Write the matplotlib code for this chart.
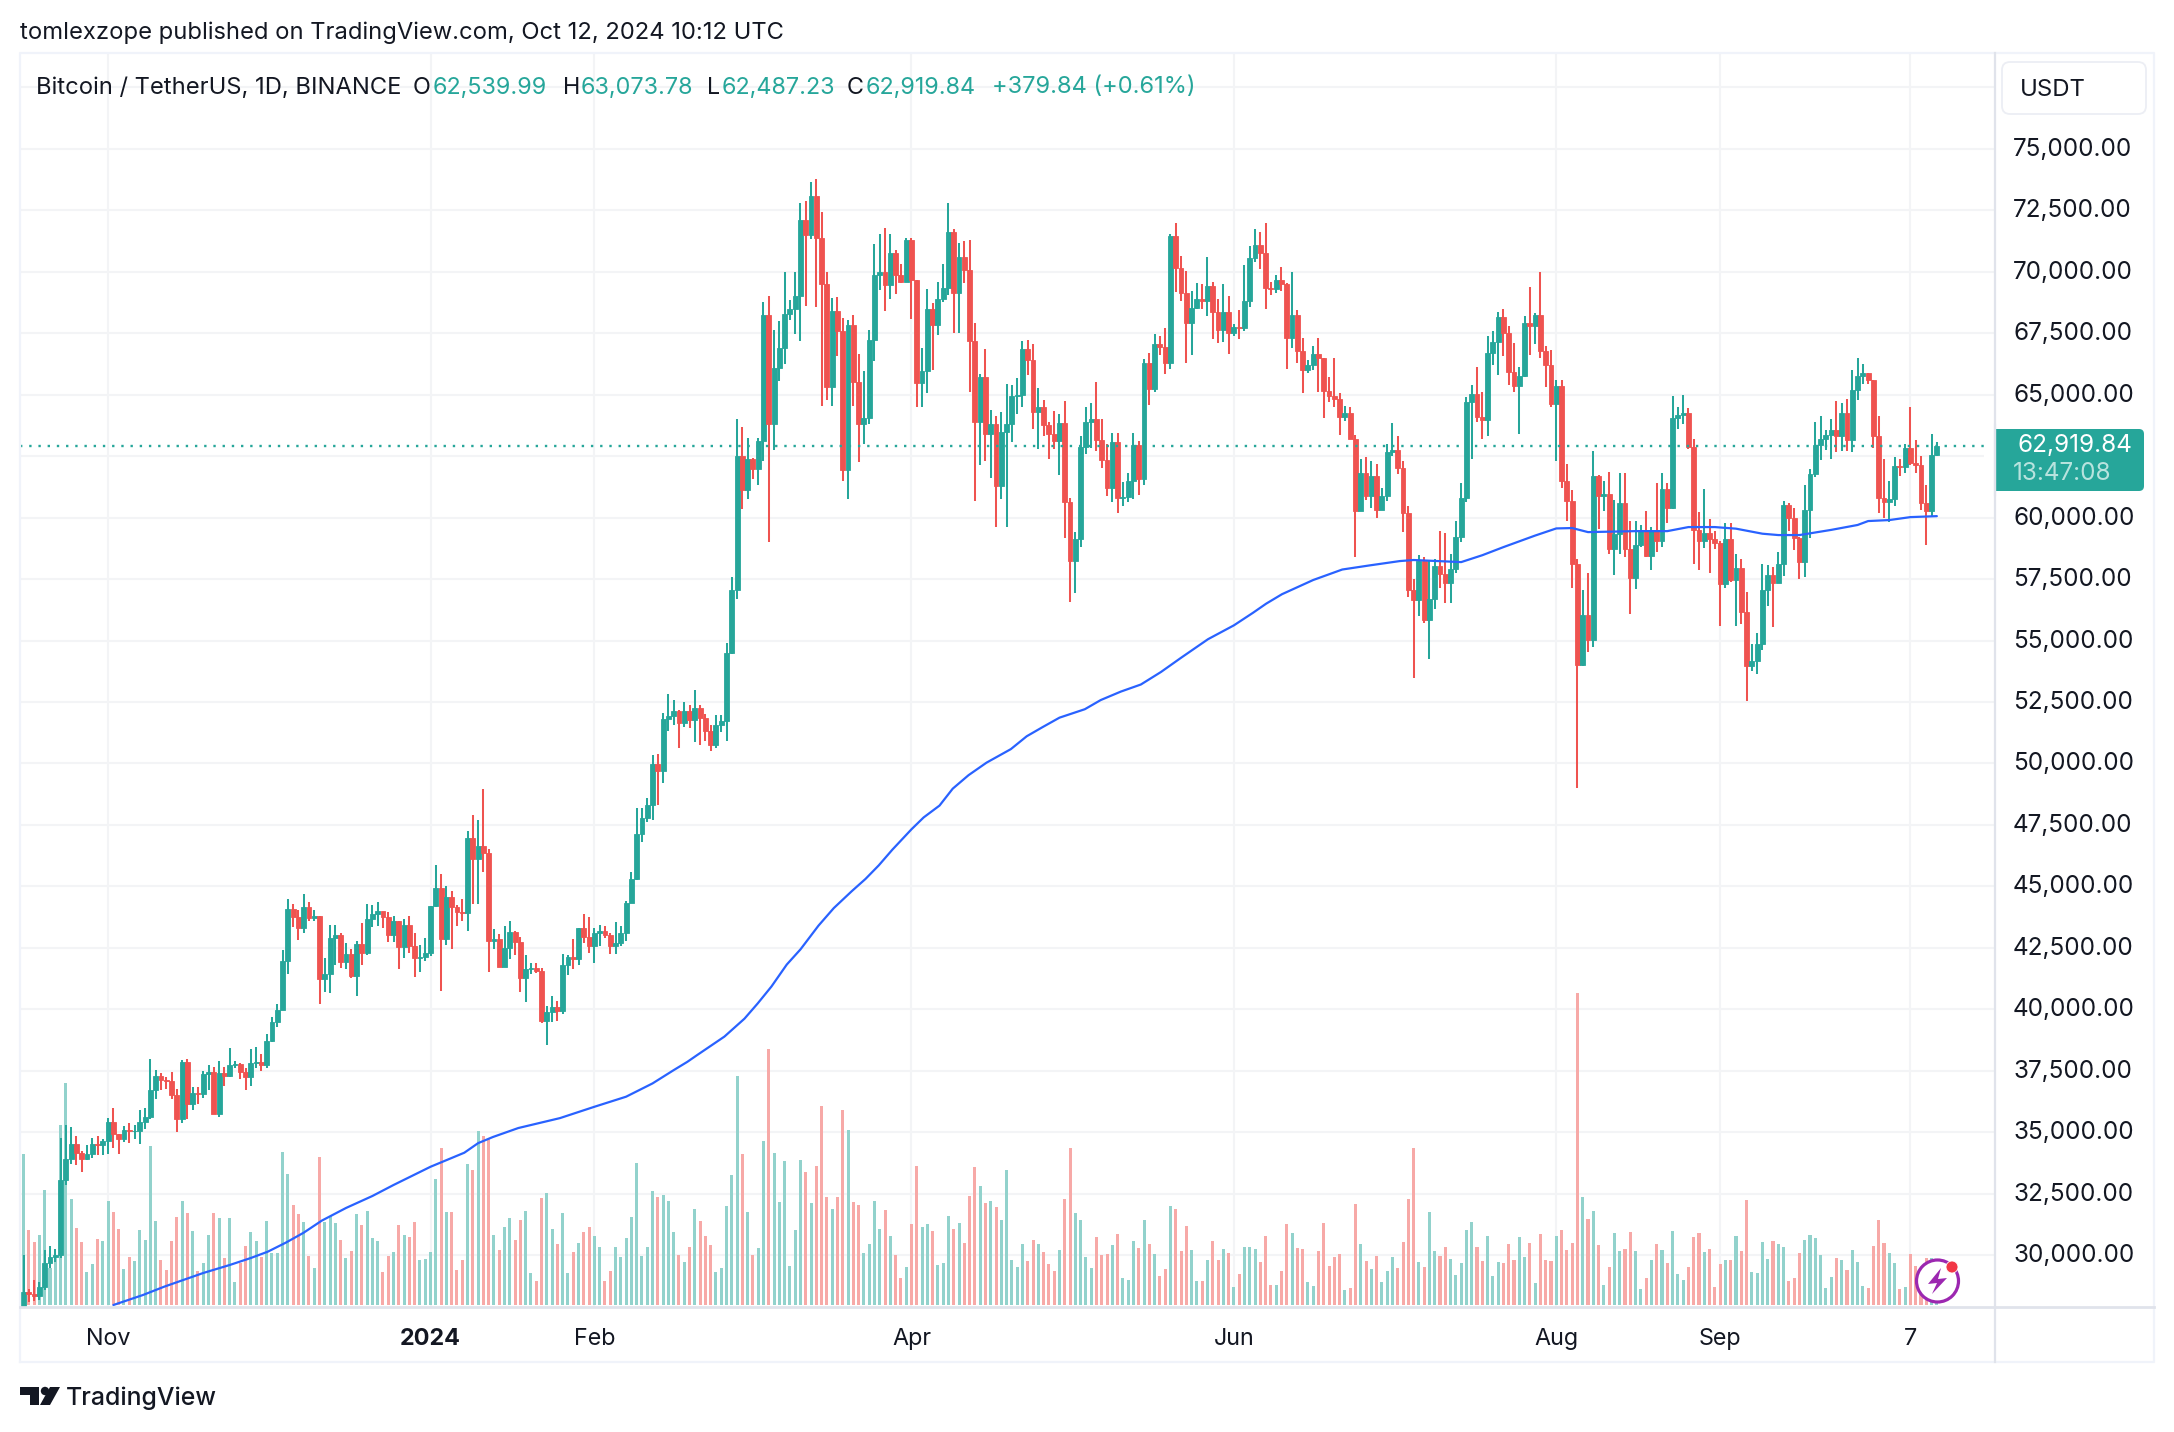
import matplotlib
matplotlib.use("Agg")
import matplotlib.pyplot as plt
from matplotlib.patches import Rectangle, FancyBboxPatch, Circle, Polygon
from matplotlib.transforms import ScaledTranslation
import numpy as np
import pandas as pd

plt.rcParams['font.family'] = ['Inter', 'DejaVu Sans']

start_date = "2023-10-15"
end_date = "2024-10-12"

closes = [
    27150,28500,28395,28320,28715,29670,29910,29990,33070,33900,34500,34156,33900,34090,34525,34480,34640,
    35420,34940,34720,35080,35040,35050,35420,35620,36700,37300,37130,37060,36490,35540,37870,36150,36600,36570,37360,37460,35750,37410,37290,37720,37790,37450,37240,37820,37850,37710,
    38690,39460,39970,41980,44080,43770,43290,44170,43720,43790,41240,41450,42890,43020,41940,42260,41370,42660,42270,43650,43860,43990,43740,43020,43600,42520,43440,42580,42070,42140,42280,
    44180,44950,42850,44560,44150,43970,43930,46950,46110,46630,46340,42780,42850,41730,42510,43140,42740,41260,41620,41660,41540,39500,39880,40080,39930,41810,42120,42030,43300,42950,42580,
    43080,43190,43000,42580,42700,43080,44340,45290,47140,47770,48290,49960,49700,51800,51940,52130,51640,52120,51780,52260,51850,51300,50740,51570,51730,54480,57040,62500,61130,
    62390,61990,63110,68250,63800,66100,66900,68300,68500,69020,72120,71480,73070,71390,69500,65300,68390,67600,61940,67840,65500,63800,64040,67210,69880,69990,69460,70780,69850,69580,71280,
    69650,65460,65960,68500,67840,68900,69360,71620,69140,70590,70060,67200,63900,65740,63420,63790,61280,63470,63820,64960,65000,66840,66410,64280,64490,63750,63420,63110,63840,60640,
    58250,59120,62890,63890,64030,63160,62330,61190,63070,60790,60820,61480,62940,61580,66270,65230,67050,66940,66280,71450,70140,69120,67930,68530,68910,68820,69420,68360,67630,68360,67530,
    67760,67710,68800,70570,71080,70760,69340,69310,69650,69500,67320,68240,66770,66000,66190,66640,66490,65150,64960,64830,64100,64260,63210,60280,61800,60860,61680,60320,60890,62670,
    62750,62020,60200,57040,56640,58230,55850,56700,58040,57720,57340,57890,59200,60800,64720,65040,64090,63970,66710,67150,68160,67530,65930,65370,65780,67900,67810,68250,66780,66190,64620,
    65350,61500,60680,58120,53990,56030,55030,61700,60880,60950,58710,59350,60600,58740,57560,58870,59490,58440,59490,59030,61160,60380,64040,64160,64250,62880,59500,59030,59370,59120,58970,
    57300,59130,57480,57970,56160,53950,54160,54870,57050,57650,57340,58130,60500,60000,59180,58190,60310,61760,62950,63200,63350,63580,63330,64260,63140,65180,65770,65870,65600,63330,
    60800,60650,60750,62080,62060,62820,62220,62130,60580,60270,62540,62920,
]
highs = [
    27290,30000,28610,28980,28920,30200,30350,30230,34740,35280,35200,34830,34250,34480,34770,34860,34720,
    35580,35980,34940,35260,35380,35280,35890,35980,37970,37530,37410,37230,37440,36750,37930,37970,36850,36845,37500,37750,37650,37890,37650,38420,37890,37820,37590,38380,38450,38170,
    38999,39700,40220,42420,44490,44300,44050,44700,44370,44040,43800,42100,43430,43420,43090,42700,42430,42760,43500,44280,44240,44370,43810,43950,43800,43600,43680,43790,43110,42610,42890,
    44180,45880,45500,45000,44800,44230,44500,47250,47890,47700,48970,46500,43260,43070,43400,43580,43200,42930,42200,41870,41880,41670,40130,40530,40350,42230,42200,42840,43300,43870,43740,
    43290,43420,43380,43120,43530,43400,44400,45600,48200,48170,48590,50330,50370,52040,52820,52580,52180,52480,52380,52980,52370,52020,51550,51960,51950,54910,57590,64000,63680,
    63230,62430,63230,68760,69000,67640,67980,70000,68860,70000,72800,72900,73650,73780,72430,70000,68920,68960,68140,68030,68240,66650,65970,67620,71150,71550,71770,71550,70900,70320,71370,
    71370,69670,66900,69290,68720,69580,70300,72800,71740,71170,71260,71280,67930,65850,66870,64370,64120,64290,65450,65390,65700,67200,67210,67070,65280,64800,63900,64350,64230,64730,
    60780,59400,63320,64500,64650,65500,64000,62980,63460,63460,61440,61820,63450,63120,66440,66690,67450,67400,67700,71520,71980,70630,70050,69220,69550,69500,70620,69580,68890,69500,69000,
    67860,68450,70290,71060,71760,71630,71990,69580,69850,70200,69560,69999,68450,67300,66400,67000,67300,66500,65730,66480,65070,64530,64500,63370,62400,62480,62290,62180,61200,63000,
    63840,63300,62300,60490,57500,58470,58380,58230,58300,59470,59380,58520,59850,61400,64900,65380,66130,65100,67390,67600,68370,68480,67800,67100,66120,68200,69400,68320,69990,66980,66800,
    65590,65590,62180,61110,58300,57040,57730,62730,61740,61470,61850,60700,61800,61800,59850,59850,59700,60260,59620,61400,61820,61400,64950,64500,64980,64450,63200,60240,61180,59950,59440,
    59050,59800,59800,58500,58300,56990,54850,55300,58120,58060,58000,58600,60670,60610,60400,59210,61330,61980,63870,64130,63560,64000,64750,64680,64820,66000,66500,66260,65900,65600,
    64130,62370,61470,62470,62370,63000,64480,63170,62520,61320,63420,63070,
]
lows = [
    26800,27100,28100,28130,28170,28590,29470,29700,29880,32850,33700,33660,33390,33860,33930,34050,34080,
    34100,34340,34100,34580,34550,34730,34520,35120,35530,36330,36720,36760,36330,35000,35360,35520,35880,36150,36390,36700,35720,35630,36870,37250,37600,37150,36710,36870,37600,37490,
    37600,38650,39280,39960,41420,43330,42800,43080,43580,43580,40220,40680,40670,41800,41660,41630,41250,40530,41810,42210,43330,43400,43300,42750,42720,41640,42100,42300,41300,41520,41960,
    42170,44150,40750,42630,42450,43370,43600,43180,44300,44300,45600,41500,42440,41700,41720,42050,42190,40680,40280,41450,41480,39430,38550,39480,39500,39820,41390,41620,41800,42680,42280,
    41880,42580,42880,42260,42250,42570,42790,44330,45240,46800,47630,47700,48300,49220,51310,51580,50620,51500,51450,50880,50750,50930,50520,50640,51280,50900,54450,56690,60360,
    60760,61570,61320,62310,59000,62770,65560,66230,68040,67460,67190,68620,71330,68580,64530,64780,64530,66580,61500,60760,64530,62260,63000,63800,66380,69250,68400,68900,69100,69560,69570,
    68060,64490,64500,65080,66000,67440,68770,69040,67500,67500,69550,65090,60660,62130,62300,61620,59600,60760,59600,63080,64230,64520,65800,63600,62790,63300,62400,62800,61740,59190,
    56550,56940,58800,62590,62840,62700,62000,60880,60630,60190,60490,60630,60750,60920,61310,64600,65100,66600,65850,66060,69160,68800,66300,66610,68480,68500,68200,67280,67120,67130,66670,
    67390,67260,67610,68570,70400,70120,68500,69050,69120,69200,66050,66900,66300,65050,65900,66000,65130,64060,64690,64500,63380,63940,63180,58400,60260,60700,60400,60000,60300,60660,
    62500,61760,59420,56770,53480,56000,55720,54260,56300,57150,56540,56530,57750,59000,60630,62400,63880,63200,63300,66220,65800,66570,65400,65100,63400,65740,66600,67070,66480,65300,64520,
    62300,61200,59850,57120,49000,53950,54550,54750,59530,60260,58500,57650,58500,58400,56080,57100,58790,58400,57860,58600,58790,59800,60350,63600,63800,62800,58120,57860,58750,57750,58740,
    55580,57130,57400,55600,55660,52550,53750,53650,54600,56400,55550,57320,57630,59450,58700,57500,57600,59170,61660,62350,62760,62400,62670,62700,62700,62670,64800,65420,65430,62850,
    60170,60000,59830,60460,61680,61800,62130,61820,60300,58900,60080,62490,
]
# every open sits on the previous close in the picture
opens = [26850] + closes[:-1]

# volume bars, height (no scale is shown for them)
volumes = [
    30,151,75,63,70,115,37,50,180,222,106,77,63,33,41,66,64,
    104,93,76,36,48,44,75,65,159,84,45,35,64,88,104,92,74,34,42,70,92,87,47,87,23,42,59,73,64,48,
    84,52,52,153,131,100,91,83,49,37,148,83,89,82,65,47,54,91,80,94,67,64,33,49,53,80,70,68,83,45,46,
    53,126,157,93,93,35,45,141,135,174,169,166,70,55,78,87,65,85,94,32,24,107,112,76,61,92,32,53,62,73,78,
    69,58,24,34,58,48,67,88,142,49,58,114,108,110,104,73,50,43,58,96,84,69,60,33,37,99,130,229,151,
    93,50,57,164,256,152,103,144,39,75,145,133,102,139,199,108,96,108,195,175,103,100,52,61,104,76,95,69,50,27,38,
    81,139,78,81,74,40,42,89,76,82,62,109,138,119,102,104,98,85,135,45,38,61,44,65,61,53,41,34,55,106,
    157,92,85,48,37,68,50,51,60,71,27,25,64,57,85,61,51,29,36,99,96,54,79,55,24,24,45,64,45,56,52,
    18,31,58,58,56,43,69,20,20,34,81,72,57,56,23,19,54,82,39,48,51,15,17,101,61,44,36,49,23,34,
    48,37,63,106,157,43,38,93,54,49,58,46,30,42,75,83,58,44,69,29,43,42,61,45,68,48,62,22,71,45,44,
    69,75,55,62,312,108,86,94,60,20,38,72,54,56,73,54,16,27,45,61,55,42,74,31,25,38,68,72,53,56,18,
    41,45,45,69,54,105,33,32,63,46,64,61,58,24,27,52,65,70,67,50,17,28,47,45,35,55,43,19,17,59,
    85,62,52,42,16,18,51,39,35,47,47,2,
]

# moving average, read at points along the blue line (days from 2024-01-01)
ma_days = [-60,-54.4,-50.4,-47.7,-43,-38,-34,-30.8,-27.4,-24,-20.6,-16,-11,-7,0,6.4,9,11.8,16.6,24.5,31,37,42,46,48.6,
           50.5,55.6,59.4,61.9,64.5,67.4,70,73.4,76.3,79.7,82.3,84.8,87.4,91,93.3,96.3,98.8,101.8,105.2,109.8,112.8,115.8,119,
           123.8,126.8,130.6,134.4,138.2,142,147.1,152,155.6,158.1,161.1,167,172.5,177.6,183.4,
           186,195,199,203,209,213,216,219,228,234,238,243,247,252,255,259,265,270,272,276,280,285]
ma_values = [27966,28373,28710,28914,29268,29593,29878,30134,30500,30907,31395,31912,32400,32848,33590,34162,34550,34800,35165,35570,36030,36440,36980,37520,37860,
             38142,38885,39615,40234,40922,41816,42435,43399,44114,44802,45300,45850,46495,47320,47802,48284,48972,49522,50031,50581,51104,51476,51861,
             52205,52577,52921,53210,53719,54297,55053,55617,56126,56498,56884,57461,57888,58053,58232,
             58275,58190,58470,58800,59270,59560,59575,59410,59450,59450,59615,59615,59550,59345,59290,59290,59500,59700,59860,59900,60020,60060]

price_ticks = [30000,32500,35000,37500,40000,42500,45000,47500,50000,52500,55000,57500,60000,62500,65000,67500,70000,72500,75000,77500]
price_labels = ["30,000.00","32,500.00","35,000.00","37,500.00","40,000.00","42,500.00","45,000.00","47,500.00","50,000.00","52,500.00",
                "55,000.00","57,500.00","60,000.00","","65,000.00","67,500.00","70,000.00","72,500.00","75,000.00",""]
time_ticks = ["2023-11-01","2024-01-01","2024-02-01","2024-04-01","2024-06-01","2024-08-01","2024-09-01","2024-10-07"]
time_labels = ["Nov","2024","Feb","Apr","Jun","Aug","Sep","7"]
last_price = 62919.84

GREEN = "#26a69a"
RED = "#ef5350"
GRID = "#f3f4f6"
BORDER = "#e0e3eb"
OUTER = "#f0f3fa"
INK = "#131722"

W, H = 2174, 1432
fig = plt.figure(figsize=(W / 100, H / 100), dpi=100, facecolor="white")
# pane edges in pixels
pl, pr, pt, pb = 20, 1995, 53, 1307
ax = fig.add_axes([pl / W, 1 - pb / H, (pr - pl) / W, (pb - pt) / H])

base = pd.Timestamp("2024-01-01")
days = (pd.date_range(start_date, end_date) - base).days.values
o = np.array(opens, float)
c = np.array(closes, float)
up = c >= o
colors = np.where(up, GREEN, RED)
vol_colors = np.where(up, "#92d2cc", "#f7a9a7")

y_min, y_max = 27884.5, 78902
price_per_px = (y_max - y_min) / (pb - pt)

ax.set_xlim(-77.67, 296.0)
ax.set_ylim(y_min, y_max)
ax.set_axisbelow(True)

tick_days = (pd.to_datetime(time_ticks) - base).days.values
ax.set_xticks(tick_days, time_labels)
ax.set_yticks(price_ticks, price_labels)
ax.yaxis.tick_right()
ax.grid(True, color=GRID, lw=1.5)
ax.tick_params(axis="y", length=0, labelsize=17.5, labelcolor=INK, pad=13)
ax.tick_params(axis="x", length=0, labelsize=16.8, labelcolor=INK, pad=15)
# price labels sit a little above their grid lines
nudge = ScaledTranslation(0, 2 / 100, fig.dpi_scale_trans)
for lab in ax.get_yticklabels():
    lab.set_transform(lab.get_transform() + nudge)
for lab, txt in zip(ax.get_xticklabels(), time_labels):
    if txt == "2024":
        lab.set_fontweight("bold")
for side in ax.spines.values():
    side.set_visible(False)

# volume sits at the foot of the pane
ax.bar(days, np.array(volumes) * price_per_px, bottom=y_min + 2 * price_per_px,
       width=0.58, color=vol_colors, linewidth=0, zorder=2)

# candles
ax.vlines(days, lows, highs, colors=colors, lw=1.45, zorder=3)
ax.bar(days, np.abs(c - o), bottom=np.minimum(o, c), width=0.92, color=colors,
       edgecolor=colors, linewidth=0.6, zorder=3)

ax.plot(ma_days, ma_values, color="#2962ff", lw=1.6, zorder=4, solid_capstyle="round")
ax.axhline(last_price, color=GREEN, lw=1.7, dashes=(1, 2.9), zorder=4)

# chrome drawn over everything, in pixel coordinates
ov = fig.add_axes([0, 0, 1, 1], zorder=10)
ov.set_xlim(0, W)
ov.set_ylim(H, 0)
ov.axis("off")
ov.patch.set_alpha(0)

ov.plot([pl, pl, 2154, 2154, pl], [1362, 53, 53, 1362, 1362], color=OUTER, lw=1.6)
ov.plot([pl, 2154], [1307, 1307], color=BORDER, lw=2)
ov.plot([1995, 1995], [53, 1362], color=BORDER, lw=1.6)

ov.text(20, 33, "tomlexzope published on TradingView.com, Oct 12, 2024 10:12 UTC",
        fontsize=17.1, color=INK, va="center", ha="left")
ov.text(36, 87.5, "Bitcoin / TetherUS, 1D, BINANCE", fontsize=17.1, color=INK, va="center")
legend_x = [(413, "O", 433, "62,539.99"), (563, "H", 581, "63,073.78"),
            (707, "L", 722, "62,487.23"), (847, "C", 866, "62,919.84")]
for x0, key, x1, val in legend_x:
    ov.text(x0, 87.5, key, fontsize=16.8, color=INK, va="center")
    ov.text(x1, 87.5, val, fontsize=16.8, color=GREEN, va="center")
ov.text(992, 87.5, "+379.84 (+0.61%)", fontsize=17, color=GREEN, va="center")

ov.add_patch(FancyBboxPatch((2007, 67), 134, 42, boxstyle="round,pad=5,rounding_size=8",
                            fc="white", ec="#eceef4", lw=1.3))
ov.text(2020, 89.5, "USDT", fontsize=17.2, color=INK, va="center")

ov.add_patch(FancyBboxPatch((1990, 434), 149, 52, boxstyle="round,pad=5,rounding_size=5",
                            fc=GREEN, ec="none", clip_on=True))
ov.add_patch(Rectangle((1984, 425), 12, 70, fc="white", ec="none"))
ov.plot([1995, 1995], [425, 495], color=BORDER, lw=1.6)
ov.text(2132, 445, "62,919.84", fontsize=17.5, color="white", va="center", ha="right")
ov.text(2013, 473.5, "13:47:08", fontsize=17.5, color="#b8e3de", va="center", ha="left")

# TradingView logo
ov.add_patch(Polygon([(20, 1387), (39, 1387), (39, 1405), (30, 1405), (30, 1395), (20, 1395)], fc=INK, ec="none"))
ov.add_patch(Circle((45, 1391), 4.2, fc=INK, ec="none"))
ov.add_patch(Polygon([(50, 1387), (60, 1387), (50, 1405), (40, 1405)], fc=INK, ec="none"))
ov.text(66, 1398, "TradingView", fontsize=17.9, color=INK, va="center", fontweight="medium")

# lightning badge
ov.add_patch(Circle((1937.5, 1281), 21, fc="white", ec="#9c27b0", lw=2.3))
ov.add_patch(Polygon([(1941, 1268), (1928, 1284), (1937, 1283), (1932, 1294), (1947, 1278), (1938, 1279)],
                     fc="#9c27b0", ec="none"))
ov.add_patch(Circle((1952, 1267), 6, fc="#f23645", ec="white", lw=0.6))

fig.savefig("out.png", dpi=100, facecolor="white")
